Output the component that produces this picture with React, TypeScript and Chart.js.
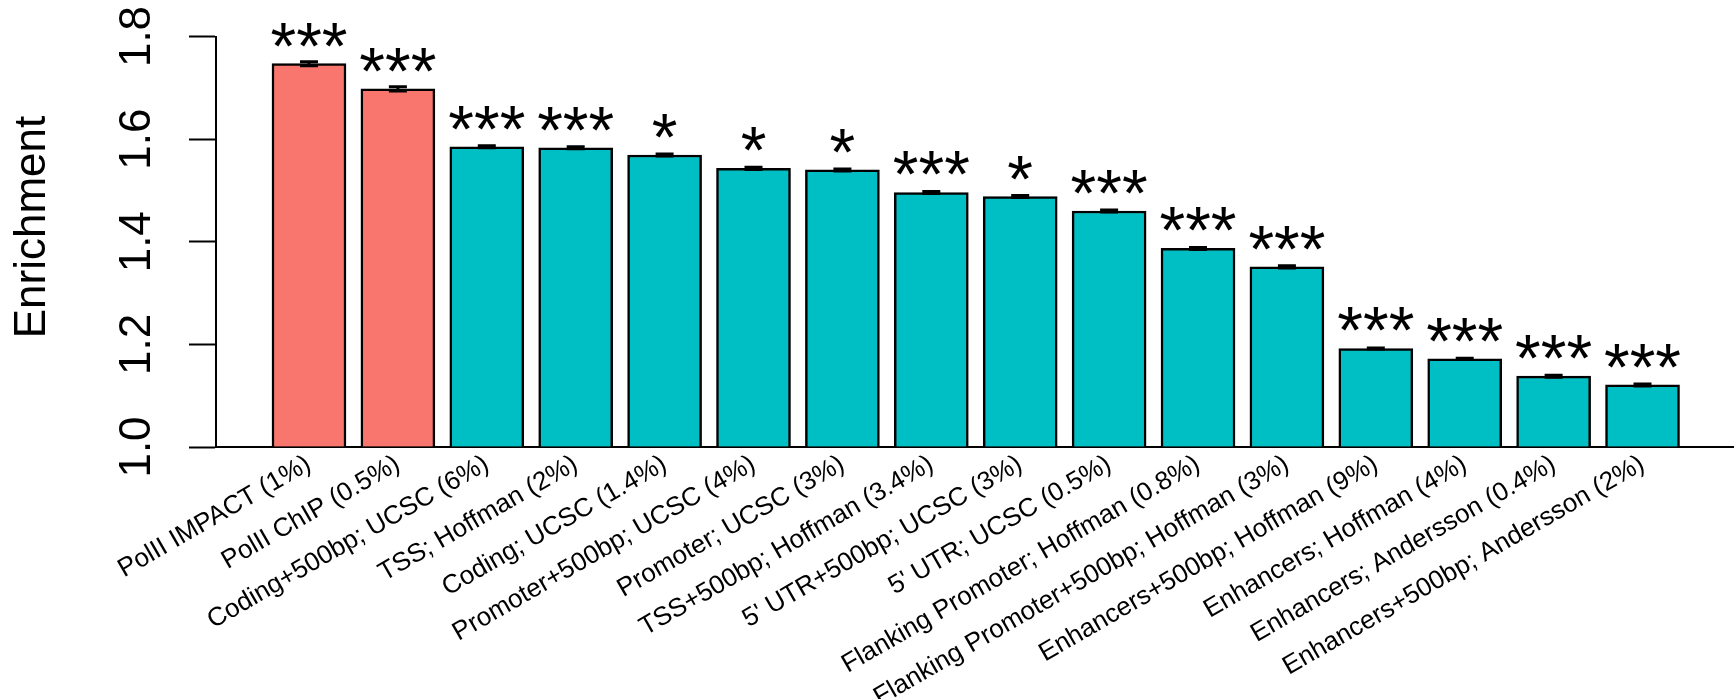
import React, { useEffect, useRef } from "react";
import { Chart, registerables } from "chart.js";

Chart.register(...registerables);

// ---- data ----
const categories: string[] = [
  "PolII IMPACT (1%)",
  "PolII ChIP (0.5%)",
  "Coding+500bp; UCSC (6%)",
  "TSS; Hoffman (2%)",
  "Coding; UCSC (1.4%)",
  "Promoter+500bp; UCSC (4%)",
  "Promoter; UCSC (3%)",
  "TSS+500bp; Hoffman (3.4%)",
  "5' UTR+500bp; UCSC (3%)",
  "5' UTR; UCSC (0.5%)",
  "Flanking Promoter; Hoffman (0.8%)",
  "Flanking Promoter+500bp; Hoffman (3%)",
  "Enhancers+500bp; Hoffman (9%)",
  "Enhancers; Hoffman (4%)",
  "Enhancers; Andersson (0.4%)",
  "Enhancers+500bp; Andersson (2%)",
];

const enrichment: number[] = [
  1.747, 1.698, 1.585, 1.583, 1.569, 1.543, 1.54, 1.496, 1.488, 1.46, 1.387,
  1.351, 1.192, 1.172, 1.138, 1.121,
];

const stdErr: number[] = [
  0.004, 0.004, 0.002, 0.002, 0.002, 0.002, 0.002, 0.002, 0.002, 0.002, 0.002,
  0.002, 0.001, 0.001, 0.002, 0.002,
];

const significance: string[] = [
  "***", "***", "***", "***", "*", "*", "*", "***", "*", "***", "***", "***",
  "***", "***", "***", "***",
];

const isPolII: boolean[] = [
  true, true, false, false, false, false, false, false, false, false, false,
  false, false, false, false, false,
];

const yTicks: number[] = [1.0, 1.2, 1.4, 1.6, 1.8];
const yTitle = "Enrichment";

// ---- style ----
const FONT = "'Liberation Sans', Arial, Helvetica, sans-serif";
const POL_COLOR = "#F8766D";
const ANNOT_COLOR = "#00BFC4";
const X_MIN = -1.046;
const X_MAX = 16.029;

const annotPlugin = {
  id: "errorBarsAndStars",
  afterDatasetsDraw(chart: any) {
    const ctx: CanvasRenderingContext2D = chart.ctx;
    const meta = chart.getDatasetMeta(0);
    const yScale = chart.scales.y;
    ctx.save();
    ctx.strokeStyle = "#000";
    ctx.lineWidth = 3;
    meta.data.forEach((bar: any, i: number) => {
      const cx = bar.x;
      const yHi = yScale.getPixelForValue(enrichment[i] + stdErr[i]);
      const yLo = yScale.getPixelForValue(enrichment[i] - stdErr[i]);
      ctx.beginPath();
      ctx.moveTo(cx, yLo);
      ctx.lineTo(cx, yHi);
      ctx.moveTo(cx - 9, yHi);
      ctx.lineTo(cx + 9, yHi);
      ctx.moveTo(cx - 9, yLo);
      ctx.lineTo(cx + 9, yLo);
      ctx.stroke();
    });
    ctx.font = `66px ${FONT}`;
    ctx.fillStyle = "#000";
    ctx.textAlign = "center";
    ctx.textBaseline = "alphabetic";
    const m = ctx.measureText("*");
    const desc = m.actualBoundingBoxDescent;
    meta.data.forEach((bar: any, i: number) => {
      const top = yScale.getPixelForValue(enrichment[i]);
      ctx.fillText(significance[i], bar.x, top - 17 - desc);
    });
    // y-axis title
    ctx.save();
    ctx.translate(33, 227);
    ctx.rotate(-Math.PI / 2);
    ctx.font = `44px ${FONT}`;
    ctx.textAlign = "center";
    ctx.textBaseline = "middle";
    ctx.fillText(yTitle, 0, 0);
    ctx.restore();
    ctx.restore();
  },
};

export default function App() {
  const canvasRef = useRef<HTMLCanvasElement | null>(null);

  useEffect(() => {
    document.body.style.margin = "0";
    const canvas = canvasRef.current;
    if (!canvas) return;
    const chart = new Chart(canvas, {
      type: "bar",
      data: {
        datasets: [
          {
            data: enrichment.map((v, i) => ({ x: i, y: v })),
            backgroundColor: isPolII.map((p) => (p ? POL_COLOR : ANNOT_COLOR)),
            borderColor: "#000",
            borderWidth: 2.5,
            borderSkipped: "start",
            barThickness: 74,
            base: 1,
          } as any,
        ],
      },
      options: {
        responsive: false,
        animation: false,
        layout: { padding: { top: 36.5, left: 0, right: 0, bottom: 0 } },
        plugins: {
          legend: { display: false },
          tooltip: { enabled: false },
        },
        scales: {
          x: {
            type: "linear",
            min: X_MIN,
            max: X_MAX,
            offset: false,
            afterBuildTicks: (s: any) => {
              s.ticks = categories.map((_, i) => ({ value: i }));
            },
            afterFit: (s: any) => {
              s.height = 252;
              s.paddingLeft = 0;
              s.paddingRight = 0;
            },
            grid: { display: false, drawTicks: false },
            border: { display: true, color: "#000", width: 2 },
            ticks: {
              autoSkip: false,
              minRotation: 30,
              maxRotation: 30,
              padding: 2,
              labelOffset: 0,
              color: "#000",
              font: { family: FONT, size: 26 },
              callback: (v: any) => categories[Math.round(Number(v))] ?? "",
            },
          },
          y: {
            min: 1,
            max: 1.8,
            afterBuildTicks: (s: any) => {
              s.ticks = yTicks.map((v) => ({ value: v }));
            },
            afterFit: (s: any) => {
              s.width = 216;
              s.paddingTop = 0;
              s.paddingBottom = 0;
            },
            grid: {
              display: true,
              drawOnChartArea: false,
              drawTicks: true,
              tickLength: 27,
              tickWidth: 2,
              tickColor: "#000",
            },
            border: { display: true, color: "#000", width: 2 },
            ticks: {
              minRotation: 90,
              maxRotation: 90,
              crossAlign: "center",
              padding: 21,
              color: "#000",
              font: { family: FONT, size: 44 },
              callback: (v: any) => Number(v).toFixed(1),
            },
            title: { display: false },
          },
        },
      } as any,
      plugins: [annotPlugin],
    });
    return () => chart.destroy();
  }, []);

  return (
    <div style={{ width: 1734, height: 699 }}>
      <canvas ref={canvasRef} width={1734} height={699} style={{ display: "block" }} />
    </div>
  );
}
